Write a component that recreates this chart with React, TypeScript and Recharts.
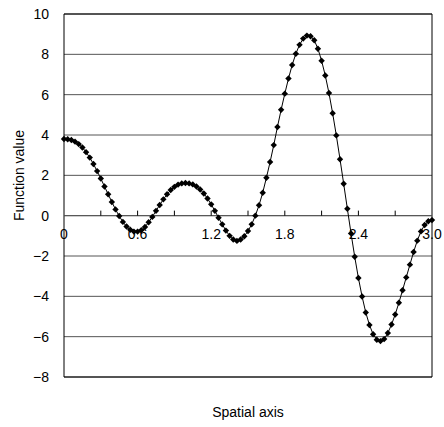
import React from 'react';
import {
  LineChart,
  Line,
  XAxis,
  YAxis,
  CartesianGrid,
  ReferenceArea,
  ReferenceLine,
  ReferenceDot,
} from 'recharts';

// Sample positions along the spatial axis (step 0.03)
const xs = [
  0.0, 0.03, 0.06, 0.09, 0.12, 0.15, 0.18, 0.21, 0.24, 0.27,
  0.3, 0.33, 0.36, 0.39, 0.42, 0.45, 0.48, 0.51, 0.54, 0.57,
  0.6, 0.63, 0.66, 0.69, 0.72, 0.75, 0.78, 0.81, 0.84, 0.87,
  0.9, 0.93, 0.96, 0.99, 1.02, 1.05, 1.08, 1.11, 1.14, 1.17,
  1.2, 1.23, 1.26, 1.29, 1.32, 1.35, 1.38, 1.41, 1.44, 1.47,
  1.5, 1.53, 1.56, 1.59, 1.62, 1.65, 1.68, 1.71, 1.74, 1.77,
  1.8, 1.83, 1.86, 1.89, 1.92, 1.95, 1.98, 2.01, 2.04, 2.07,
  2.1, 2.13, 2.16, 2.19, 2.22, 2.25, 2.28, 2.31, 2.34, 2.37,
  2.4, 2.43, 2.46, 2.49, 2.52, 2.55, 2.58, 2.61, 2.64, 2.67,
  2.7, 2.73, 2.76, 2.79, 2.82, 2.85, 2.88, 2.91, 2.94, 2.97,
  3.0,
];

// Function value at each sample
const values = [
  3.8, 3.79, 3.75, 3.67, 3.55, 3.38, 3.15, 2.88, 2.56, 2.21,
  1.84, 1.45, 1.06, 0.68, 0.31, -0.02, -0.31, -0.54, -0.7, -0.79,
  -0.79, -0.72, -0.56, -0.33, -0.06, 0.24, 0.53, 0.81, 1.06, 1.27,
  1.43, 1.54, 1.6, 1.62, 1.6, 1.55, 1.45, 1.3, 1.1, 0.85,
  0.56, 0.24, -0.1, -0.43, -0.74, -1.0, -1.18, -1.25, -1.18, -1.02,
  -0.76, -0.43, 0.0, 0.52, 1.14, 1.88, 2.66, 3.5, 4.4, 5.25,
  6.05, 6.8, 7.47, 8.03, 8.47, 8.78, 8.93, 8.9, 8.7, 8.28,
  7.68, 6.95, 6.08, 5.08, 3.98, 2.8, 1.58, 0.34, -0.88, -2.04,
  -3.09, -4.01, -4.8, -5.42, -5.88, -6.15, -6.22, -6.12, -5.82, -5.4,
  -4.9, -4.32, -3.7, -3.06, -2.43, -1.8, -1.24, -0.78, -0.46, -0.28,
  -0.22,
];

const yTicks = [-8, -6, -4, -2, 0, 2, 4, 6, 8, 10];
const xLabelTicks = [0, 0.6, 1.2, 1.8, 2.4, 3.0];
const xLabelText = ['0', '0.6', '1.2', '1.8', '2.4', '3.0'];
const xMarkTicks = [0.3, 0.6, 0.9, 1.2, 1.5, 1.8, 2.1, 2.4, 2.7];

const data = xs.map((x, i) => ({ x, y: values[i] }));

const FONT = '"Liberation Sans", Arial, sans-serif';

const formatY = (v: number) => (v < 0 ? '\u2212' + Math.abs(v) : String(v));

const Diamond = (props: any) => {
  const { cx, cy, index } = props;
  if (cx == null || cy == null) return <g key={`d-${index}`} />;
  const s = 3.2;
  return (
    <path
      key={`d-${index}`}
      d={`M${cx},${cy - s}L${cx + s},${cy}L${cx},${cy + s}L${cx - s},${cy}Z`}
      fill="#000"
      stroke="none"
    />
  );
};

const YTitle = (props: any) => {
  const vb = props.viewBox || { x: 0, y: 0, width: 0, height: 0 };
  const cx = vb.x + 19;
  const cy = vb.y + vb.height / 2 - 20;
  return (
    <text
      x={cx}
      y={cy}
      transform={`rotate(-90, ${cx}, ${cy})`}
      textAnchor="middle"
      dominantBaseline="central"
      fontSize={14}
      fontFamily={FONT}
      fill="#000"
    >
      Function value
    </text>
  );
};

export default function App() {
  return (
    <div style={{ position: 'absolute', left: 0, top: 0, background: '#fff' }}>
      <LineChart
        width={444}
        height={427}
        data={data}
        margin={{ top: 14, right: 12, bottom: 0, left: 0 }}
        style={{ fontFamily: FONT }}
      >
        <CartesianGrid horizontal vertical={false} stroke="#555" strokeWidth={1} />
        <XAxis
          dataKey="x"
          type="number"
          domain={[0, 3]}
          ticks={[]}
          tick={false}
          axisLine={false}
          tickLine={false}
          height={50}
          label={{ value: 'Spatial axis', position: 'insideBottom', offset: 10, fill: '#000', fontSize: 14 }}
        />
        <YAxis
          type="number"
          domain={[-8, 10]}
          ticks={yTicks}
          interval={0}
          width={64}
          axisLine={false}
          tickLine={false}
          tickSize={0}
          tickMargin={15}
          tick={{ fill: '#000', fontSize: 14 }}
          tickFormatter={formatY}
          label={{ content: YTitle }}
        />
        <ReferenceArea x1={0} x2={3} y1={-8} y2={10} fill="none" stroke="#000" strokeWidth={1} />
        <ReferenceLine y={0} stroke="#555" strokeWidth={1} />
        {xMarkTicks.map((t) => (
          <ReferenceLine
            key={`tk-${t}`}
            segment={[
              { x: t, y: 0 },
              { x: t, y: 0.25 },
            ]}
            stroke="#000"
            strokeWidth={1}
          />
        ))}
        <Line
          type="linear"
          dataKey="y"
          stroke="#000"
          strokeWidth={1}
          dot={Diamond}
          activeDot={false}
          isAnimationActive={false}
        />
        {xLabelTicks.map((t, i) => (
          <ReferenceDot
            key={`lb-${t}`}
            x={t}
            y={0}
            r={0}
            fill="none"
            stroke="none"
            label={{ value: xLabelText[i], position: 'bottom', offset: 13, fill: '#000', fontSize: 14 }}
          />
        ))}
      </LineChart>
    </div>
  );
}
